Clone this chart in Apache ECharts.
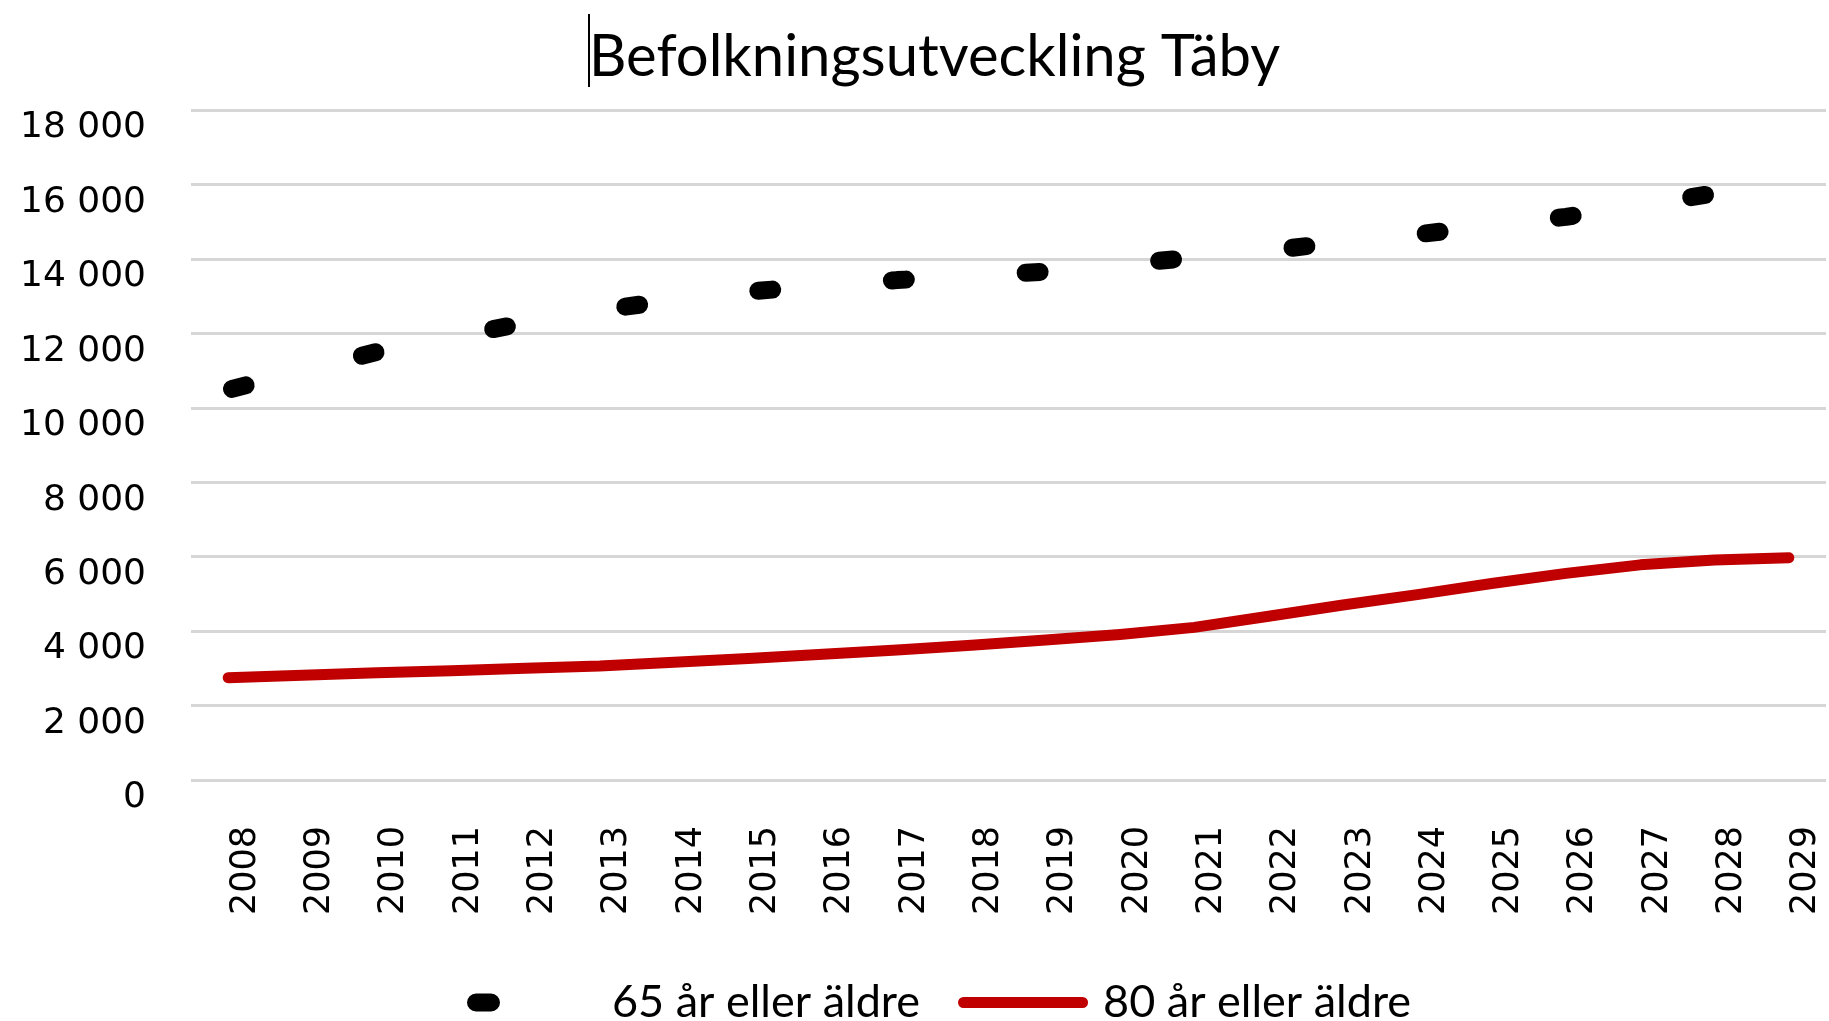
<!DOCTYPE html>
<html>
<head>
<meta charset="utf-8">
<title>Befolkningsutveckling Täby</title>
<script src="https://cdn.jsdelivr.net/npm/echarts@6/dist/echarts.min.js"></script>
<style>
  html, body { margin: 0; padding: 0; background: #fff; }
  #chart { width: 1829px; height: 1021px; }
</style>
</head>
<body>
<div id="chart"></div>
<script>
// 年份
const years = ['2008', '2009', '2010', '2011', '2012', '2013', '2014', '2015', '2016', '2017', '2018',
               '2019', '2020', '2021', '2022', '2023', '2024', '2025', '2026', '2027', '2028', '2029'];
// 65 år eller äldre
const age65 = [10480, 11000, 11500, 11900, 12280, 12620, 12900, 13120, 13290, 13430, 13540,
               13660, 13850, 14040, 14230, 14450, 14660, 14890, 15130, 15440, 15760, 16050];
// 80 år eller äldre
const age80 = [2750, 2815, 2880, 2935, 3000, 3060, 3165, 3265, 3380, 3490, 3620,
               3760, 3910, 4100, 4400, 4700, 4980, 5280, 5550, 5780, 5910, 5970];
// y轴刻度
const yMin = 0;
const yMax = 18000;
const yStep = 2000;

const seriesNames = ['65 år eller äldre', '80 år eller äldre'];

// 千位空格分隔
const fmt = (v) => String(v).replace(/\B(?=(\d{3})+(?!\d))/g, ' ');

// 图例图标：虚线只露出第一段，实线为粗红条（140x18 的框）
const dashIcon = 'path://M9,0 L24,0 A9,9 0 0 1 24,18 L9,18 A9,9 0 0 1 9,0 Z M140,9 L140,9 Z';
const lineIcon = 'path://M5.5,3.5 L124.5,3.5 A5.5,5.5 0 0 1 124.5,14.5 L5.5,14.5 A5.5,5.5 0 0 1 5.5,3.5 Z M0,0 L0,0 Z M140,18 L140,18 Z';

const myChart = echarts.init(document.getElementById('chart'));

const option = {
      animation: false,
      backgroundColor: '#fff',
      title: {
            text: 'Befolkningsutveckling Täby',
            left: 584,
            top: 23,
            textStyle: { fontFamily: 'Lato', fontSize: 58, fontWeight: 'normal', color: '#000' }
      },
      legend: {
            data: [
                  { name: seriesNames[0], icon: dashIcon, itemStyle: { color: '#000', borderWidth: 0 } },
                  { name: seriesNames[1], icon: lineIcon, itemStyle: { color: '#c00000', borderWidth: 0 } }
            ],
            left: 462,
            top: 975,
            itemWidth: 140,
            itemHeight: 18,
            itemGap: 38,
            textStyle: { fontFamily: 'Lato', fontSize: 45, lineHeight: 45, color: '#000' }
      },
      grid: { left: 191, right: 3, top: 110, bottom: 241 },
      xAxis: {
            type: 'category',
            data: years,
            boundaryGap: true,
            axisLine: { show: false },
            axisTick: { show: false },
            axisLabel: {
                  rotate: 90,
                  margin: 46,
                  interval: 0,
                  fontFamily: 'DejaVu Sans',
                  fontSize: 35,
                  color: '#000',
                  verticalAlign: 'top'
            }
      },
      yAxis: {
            type: 'value',
            min: yMin,
            max: yMax,
            interval: yStep,
            axisLine: { show: false },
            axisTick: { show: false },
            splitLine: { lineStyle: { color: '#d6d6d6', width: 3 } },
            axisLabel: {
                  margin: 45,
                  fontFamily: 'DejaVu Sans',
                  fontSize: 36,
                  color: '#000',
                  verticalAlign: 'top',
                  formatter: fmt
            }
      },
      series: [
            {
                  name: seriesNames[0],
                  type: 'line',
                  data: age65,
                  symbol: 'none',
                  color: '#000',
                  lineStyle: { color: '#000', width: 18, type: [14, 120], dashOffset: -4, cap: 'round' }
            },
            {
                  name: seriesNames[1],
                  type: 'line',
                  data: age80,
                  symbol: 'none',
                  color: '#c00000',
                  lineStyle: { color: '#c00000', width: 11, cap: 'round', join: 'round' }
            }
      ],
      // 标题前的光标竖线
      graphic: [{
            type: 'line',
            shape: { x1: 589, y1: 14, x2: 589, y2: 87 },
            style: { stroke: '#000', lineWidth: 2 }
      }]
};

myChart.setOption(option);
window.addEventListener('resize', () => myChart?.resize());
</script>
</body>
</html>
